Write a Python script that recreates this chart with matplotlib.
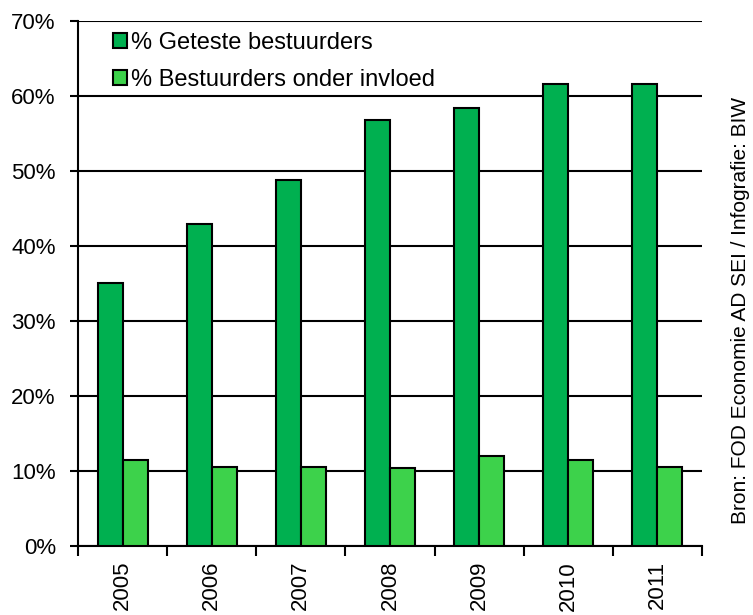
import numpy as np
import matplotlib.pyplot as plt
from matplotlib.ticker import FuncFormatter

plt.rcParams['font.family'] = ['Liberation Sans', 'DejaVu Sans']

# ---------------------------
# Data
# ---------------------------
years = ["2005", "2006", "2007", "2008", "2009", "2010", "2011"]
geteste = [35.0, 42.9, 48.8, 56.8, 58.4, 61.6, 61.6]
onder_invloed = [11.4, 10.5, 10.5, 10.4, 12.0, 11.4, 10.5]

dark_green = "#00b050"
light_green = "#3dd24b"

# ---------------------------
# Figure
# ---------------------------
fig = plt.figure(figsize=(7.53, 6.15), dpi=100)
ax = fig.add_axes([0.1036, 0.1127, 0.8287, 0.8532])

x = np.arange(len(years))
w = 0.28
ax.bar(x - w / 2, geteste, w, color=dark_green, edgecolor="black",
       linewidth=1.5, label="% Geteste bestuurders", zorder=3)
ax.bar(x + w / 2, onder_invloed, w, color=light_green, edgecolor="black",
       linewidth=1.5, label="% Bestuurders onder invloed", zorder=3)

ax.set_xlim(-0.5, len(years) - 0.5)
ax.set_ylim(0, 70)
ax.set_yticks(np.arange(0, 71, 10))
ax.yaxis.set_major_formatter(FuncFormatter(lambda v, p: f"{v:.0f}%"))
ax.yaxis.grid(True, color="black", linewidth=1.5, zorder=1)

# category boundary ticks on x, labels centred between them
ax.set_xticks(np.arange(-0.5, len(years)), minor=False)
ax.set_xticklabels([])
ax.set_xticks(x, minor=True)
ax.set_xticklabels(years, minor=True, rotation=90, fontsize=16)
ax.tick_params(axis="x", which="major", length=7, width=1.5, direction="out")
ax.tick_params(axis="x", which="minor", length=0, pad=11)
ax.tick_params(axis="y", length=6, width=1.5, labelsize=16, pad=10)

for s in ["top", "right"]:
    ax.spines[s].set_visible(False)
for s in ["left", "bottom"]:
    ax.spines[s].set_linewidth(1.5)

ax.legend(loc="upper left", bbox_to_anchor=(0.03, 1.01), frameon=False,
          fontsize=17, handlelength=0.6, handleheight=0.6, handletextpad=0.15,
          labelspacing=0.62, borderaxespad=0.3)

fig.text(0.983, 0.495, "Bron: FOD Economie AD SEI / Infografie: BIW",
         rotation=90, ha="center", va="center", fontsize=15)

plt.savefig("out.png", dpi=100)
